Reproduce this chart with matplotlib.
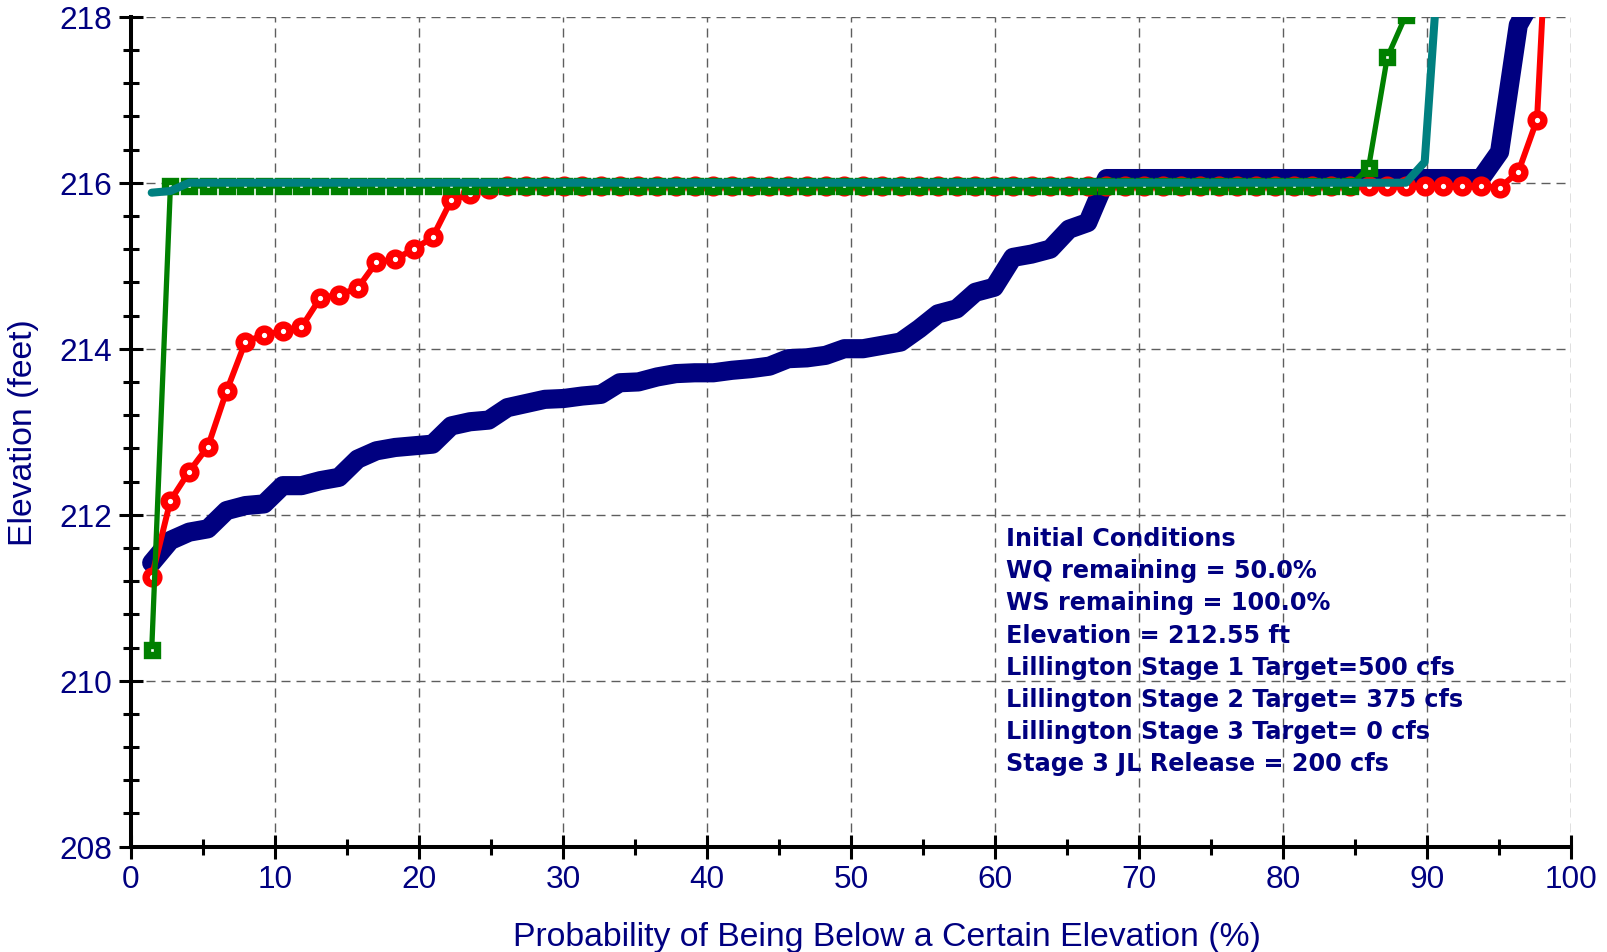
import numpy as np
import matplotlib
matplotlib.use("Agg")
import matplotlib.pyplot as plt
from matplotlib.ticker import MultipleLocator

# Exceedance-style elevation curves
N_PTS = 76
prob = np.round(1.44 + 1.3 * np.arange(N_PTS), 2)   # plotting positions (%)

navy_elev = [211.42, 211.69, 211.79, 211.83, 212.05, 212.11, 212.13, 212.35, 212.35, 212.41,
             212.45, 212.67, 212.77, 212.81, 212.83, 212.85, 213.07, 213.12, 213.14, 213.29,
             213.34, 213.39, 213.40, 213.43, 213.45, 213.59, 213.60, 213.66, 213.70, 213.71,
             213.71, 213.74, 213.76, 213.79, 213.88, 213.89, 213.92, 214.00, 214.00, 214.04,
             214.08, 214.24, 214.42, 214.48, 214.68, 214.74, 215.10, 215.14, 215.20, 215.44,
             215.52] + [216.05] * 21 + [216.37, 217.90, 218.30, 220.0]

red_elev = [211.25, 212.17, 212.52, 212.82, 213.49, 214.08, 214.17, 214.21, 214.26, 214.61,
            214.65, 214.73, 215.04, 215.08, 215.20, 215.34, 215.79, 215.86, 215.92] \
           + [215.96] * 53 + [215.94, 216.13, 216.76, 221.2]

green_elev = [210.37] + [215.96] * 64 + [216.18, 217.51, 218.02, 230.0, 232.0, 234.0,
                                         236.0, 238.0, 240.0, 242.0, 244.0]

teal_elev = [215.88, 215.90] + [216.00] * 66 + [216.25, 219.5, 222.0, 224.0, 226.0,
                                                228.0, 230.0, 232.0]

info_lines = ["Initial Conditions",
              "WQ remaining = 50.0%",
              "WS remaining = 100.0%",
              "Elevation = 212.55 ft",
              "Lillington Stage 1 Target=500 cfs",
              "Lillington Stage 2 Target= 375 cfs",
              "Lillington Stage 3 Target= 0 cfs",
              "Stage 3 JL Release = 200 cfs"]

NAVY = "#000080"
plt.rcParams["font.family"] = ["Liberation Sans", "DejaVu Sans"]

fig = plt.figure(figsize=(16.07, 9.53), dpi=100)
ax = fig.add_axes([0.0815, 0.1105, 0.8961, 0.8709])

ax.plot(prob, navy_elev, color=NAVY, lw=13.8, solid_capstyle="round",
        solid_joinstyle="round", zorder=3)
ax.plot(prob, red_elev, color="#ff0000", lw=4.3, marker="o", ms=9.2, mew=5.3,
        mfc="white", mec="#ff0000", zorder=4)
ax.plot(prob, green_elev, color="#008000", lw=3.8, marker="s", ms=7.0, mew=5.3,
        mfc="white", mec="#008000", zorder=5)
ax.plot(prob, teal_elev, color="#008080", lw=5.8, solid_capstyle="round",
        solid_joinstyle="round", zorder=6)

ax.set_xlim(0, 100)
ax.set_ylim(208, 218)
ax.xaxis.set_major_locator(MultipleLocator(10))
ax.xaxis.set_minor_locator(MultipleLocator(5))
ax.yaxis.set_major_locator(MultipleLocator(2))
ax.yaxis.set_minor_locator(MultipleLocator(0.4))

ax.grid(True, which="major", color="#5e5e5e", linestyle=(0, (6.5, 4.3)), lw=1.0, zorder=1)
ax.spines["top"].set_visible(False)
ax.spines["right"].set_visible(False)
for s in ("left", "bottom"):
    ax.spines[s].set_linewidth(2.9)
    ax.spines[s].set_zorder(7)

ax.tick_params(which="major", direction="inout", length=17, width=2.2,
               labelsize=22.8, labelcolor=NAVY)
ax.tick_params(which="minor", direction="inout", length=11, width=2.2)
ax.tick_params(axis="y", which="major", pad=5)
ax.tick_params(axis="x", which="major", pad=4)

ax.set_xlabel("Probability of Being Below a Certain Elevation (%)", fontsize=24.3, color=NAVY)
ax.set_ylabel("Elevation (feet)", fontsize=24.3, color=NAVY)
ax.xaxis.set_label_coords(0.5247, -0.089)
ax.yaxis.set_label_coords(-0.064, 0.5)

for i, line in enumerate(info_lines):
    ax.text(0.6076, 0.363 - i * 0.0386, line, transform=ax.transAxes,
            fontsize=17.2, fontweight="bold", color=NAVY, family="DejaVu Sans",
            va="baseline", ha="left", zorder=8)

fig.savefig("out.png", dpi=100)
